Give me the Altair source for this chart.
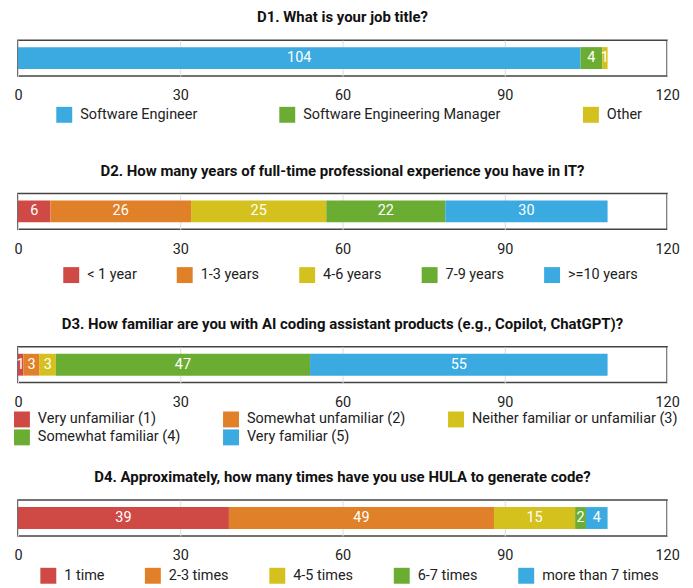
import altair as alt
import pandas as pd

titles = [
    "D1. What is your job title?",
    "D2. How many years of full-time professional experience you have in IT?",
    "D3. How familiar are you with AI coding assistant products (e.g., Copilot, ChatGPT)?",
    "D4. Approximately, how many times have you use HULA to generate code?",
]

d1_cats = ["Software Engineer", "Software Engineering Manager", "Other"]
d1_vals = [104, 4, 1]

d2_cats = ["< 1 year", "1-3 years", "4-6 years", "7-9 years", ">=10 years"]
d2_vals = [6, 26, 25, 22, 30]

d3_cats = ["Very unfamiliar (1)", "Somewhat unfamiliar (2)",
           "Neither familiar or unfamiliar (3)", "Somewhat familiar (4)",
           "Very familiar (5)"]
d3_vals = [1, 3, 3, 47, 55]

d4_cats = ["1 time", "2-3 times", "4-5 times", "6-7 times", "more than 7 times"]
d4_vals = [39, 49, 15, 2, 4]

x_ticks = [0, 30, 60, 90, 120]

three_cols = ["#3AAAE0", "#6AAD32", "#D4C11E"]
five_cols = ["#CF4A45", "#E08028", "#D4C11E", "#6AAD32", "#3AAAE0"]

FONT = "Roboto"


def panel(title, cats, vals, cols, legend_cols, col_pad, lx, ly):
    df = pd.DataFrame({"cat": cats, "value": vals,
                       "order": list(range(len(cats))), "q": title})
    base = alt.Chart(df).transform_window(
        cum="sum(value)", sort=[alt.SortField("order")]
    ).transform_calculate(
        start="datum.cum - datum.value",
        mid="datum.cum - datum.value / 2",
    )
    y = alt.Y("q:N", axis=None,
              scale=alt.Scale(paddingInner=0, paddingOuter=0.32))
    xs = alt.Scale(domain=[0, 120], nice=False)
    bars = base.mark_bar().encode(
        x=alt.X("start:Q", scale=xs, title=None,
                axis=alt.Axis(values=x_ticks, domain=False, ticks=False,
                              grid=True, gridColor="#dddddd",
                              labelFontSize=14.5, labelFont=FONT,
                              labelColor="#222222", labelPadding=13,
                              labelFlush=False)),
        x2="cum:Q",
        y=y,
        color=alt.Color(
            "cat:N", sort=cats,
            scale=alt.Scale(domain=cats, range=cols),
            legend=alt.Legend(
                orient="none", legendX=lx, legendY=ly,
                direction="horizontal",
                columns=legend_cols, columnPadding=col_pad, rowPadding=2,
                symbolType="square", symbolSize=256, symbolStrokeWidth=0,
                labelFontSize=14.5, labelFont=FONT, labelColor="#222222",
                labelOffset=8, title=None, labelLimit=0,
            ),
        ),
    )
    text = base.mark_text(color="white", fontSize=14.5, font=FONT).encode(
        x=alt.X("mid:Q", scale=xs), y=y, text="value:Q"
    )
    return (bars + text).properties(
        width=652, height=36,
        title=alt.TitleParams(title, fontSize=15, fontWeight="bold",
                              font=FONT, color="#111111", anchor="middle",
                              offset=15),
    )


chart = alt.vconcat(
    panel(titles[0], d1_cats, d1_vals, three_cols, 3, 82, 38.5, 67),
    panel(titles[1], d2_cats, d2_vals, five_cols, 5, 40, 45.5, 74),
    panel(titles[2], d3_cats, d3_vals, five_cols, 3, 42, -4, 65),
    panel(titles[3], d4_cats, d4_vals, five_cols, 5, 40, 22.5, 68),
    spacing=118,
    bounds="flush",
).resolve_scale(color="independent").properties(
    padding={"left": 5, "right": 5, "top": 0, "bottom": 0}
).configure_view(stroke="#444444", strokeWidth=1.5)

chart.save("out.html", embed_options={"renderer": "svg", "actions": False})
